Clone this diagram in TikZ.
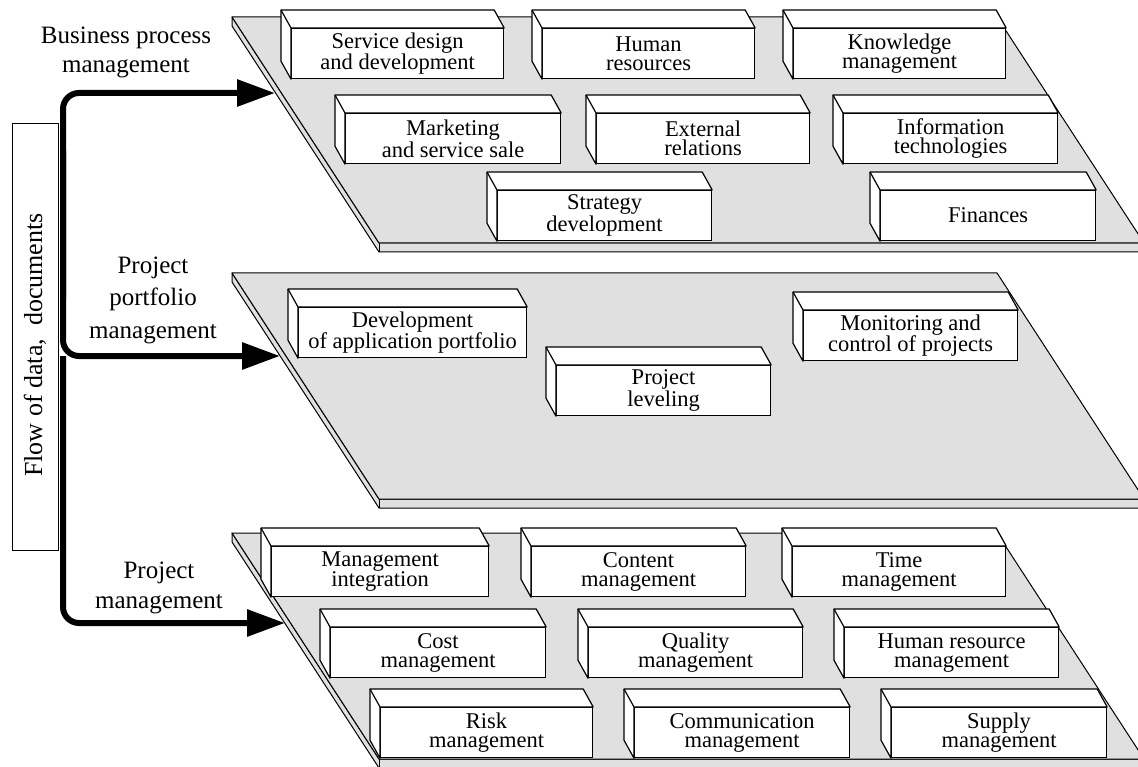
\documentclass[tikz,border=0pt]{standalone}
\usepackage{fontspec}
\setmainfont{Liberation Serif}
\usetikzlibrary{arrows.meta,calc}
\definecolor{plategray}{RGB}{224,224,224}

\begin{document}
\begin{tikzpicture}[x=1pt,y=-1pt,
		plate/.style={fill=plategray,draw=black,line width=1pt,line join=round},
		unit/.style={draw,fill=white,line width=1.2pt,minimum height=50pt,inner sep=0pt,anchor=north west,align=center,font=\fontsize{22.5}{19}\selectfont},
		face/.style={draw,fill=white,line width=1.2pt,line join=round},
		flow/.style={line width=6pt,rounded corners=16pt,-{Triangle[length=38pt,width=26pt]}},
		lbl/.style={align=center,inner sep=0pt}]
		\useasboundingbox (0,0) rectangle (1138,767);
		\clip (0,0) rectangle (1138,767);
		
		\foreach \y in {17, 273, 533}{
			\filldraw[plate] (232,\y) -- (232,\y+9) -- (379,\y+235) -- (1144,\y+235) -- (1144,\y+226) -- (379,\y+226) -- cycle;
			\filldraw[plate] (232,\y) -- (997,\y) -- (1144,\y+226) -- (379,\y+226) -- cycle;
			\draw[line width=1pt] (379,\y+226) -- (379,\y+235);
		}
		
		\foreach \n/\x/\y/\w/\t in {
			sdd/291/28/212/{Service design\\and development},
			hr/542/28/212/{Human\\resources},
			km/793/28/212/{Knowledge\\management},
			msm/345/113/215/{Marketing\\and service sale},
			er/596/113/213/{External\\relations},
			it/843/113/214/{Information\\technologies},
			sd/497/190/214/{Strategy\\development},
			fin/880/190/215/{Finances},
			dap/298/307/228/{Development\\of application portfolio},
			pl/556/365/214/{Project\\leveling},
			mcp/803/310/214/{Monitoring and\\control of projects},
			mi/271/546/217/{Management\\integration},
			cm/531/546/214/{Content\\management},
			tm/792/546/213/{Time\\management},
			csm/330/627/215/{Cost\\management},
			qm/588/627/214/{Quality\\management},
			hrm/844/627/214/{Human resource\\management},
			rm/380/707/212/{Risk\\management},
			com/634/707/215/{Communication\\management},
			sm/891/707/215/{Supply\\management}}{
			\node[unit,minimum width=\w pt] (\n) at (\x,\y) {\t};
			\draw[face] (\n.north east) -- (\n.north west) -- (\n.south west) -- ++(-10,-18) |- ($(\n.north east)+(-10,-18)$) -- cycle;
			\draw[face] (\n.north west) -- ++(-10,-18);
		}
		
		\node[draw,line width=0.8pt,minimum width=45.3pt,minimum height=427pt,inner sep=0pt] (flowbox) at (35.4,336.5) {};
		\node[rotate=90,inner sep=0pt,font=\fontsize{26}{30}\selectfont] (flowtext) at (35,345) {Flow of data,\ \ documents};
		
		\node[lbl,font=\fontsize{25}{29}\selectfont] (bpmlabel) at (126,52) {Business process\\management};
		\node[lbl,font=\fontsize{25}{32.5}\selectfont] (ppmlabel) at (153,300) {Project\\portfolio\\management};
		\node[lbl,font=\fontsize{25}{30}\selectfont] (pmlabel) at (159,588) {Project\\management};
		
		\coordinate (bpm in) at (275,93);
		\coordinate (ppm in) at (280,356);
		\coordinate (pm in) at (285,623);
		\coordinate (fork) at (63,356);
		\draw[flow] (63,300) |- (bpm in);
		\draw[flow] (63,150) |- (ppm in);
		\draw[flow] (fork) |- (pm in);
\end{tikzpicture}
\end{document}
